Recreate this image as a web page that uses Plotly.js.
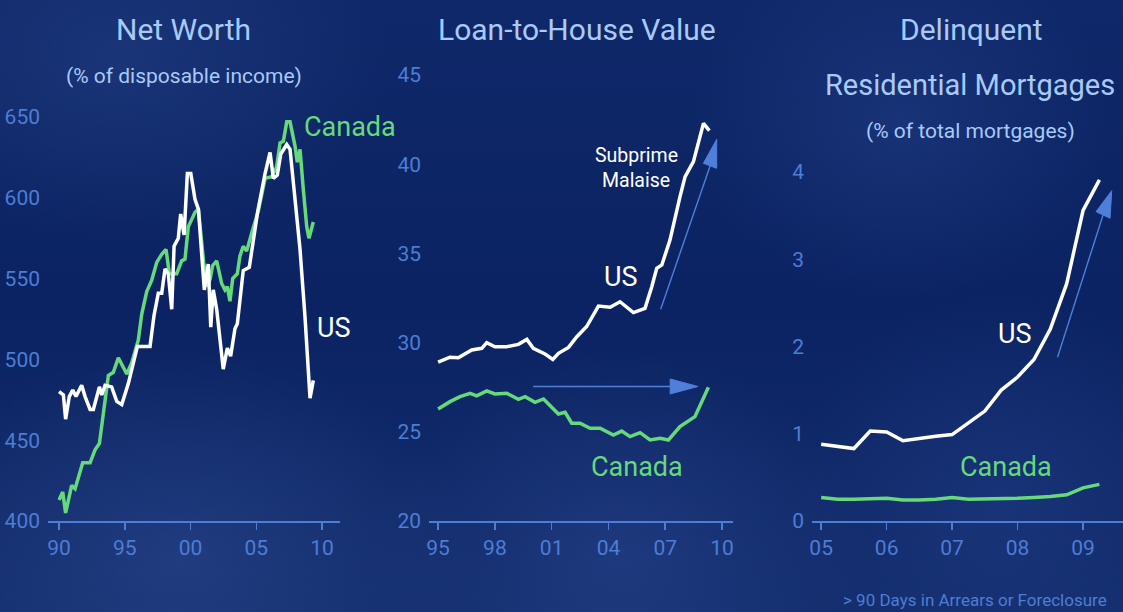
<!DOCTYPE html>
<html>
<head>
<meta charset="utf-8">
<script src="https://cdn.plot.ly/plotly-3.0.1.min.js"></script>
<style>
html,body{margin:0;padding:0;width:1123px;height:612px;overflow:hidden;}
body{
 background:
  radial-gradient(ellipse 420px 300px at 180px 560px, rgba(45,75,145,0.55), rgba(45,75,145,0) 70%),
  radial-gradient(ellipse 380px 260px at 120px 60px, rgba(40,70,140,0.45), rgba(40,70,140,0) 70%),
  radial-gradient(ellipse 360px 300px at 620px 560px, rgba(45,75,150,0.45), rgba(45,75,150,0) 70%),
  radial-gradient(ellipse 300px 260px at 900px 120px, rgba(40,70,145,0.4), rgba(40,70,145,0) 70%),
  radial-gradient(ellipse 300px 300px at 1000px 500px, rgba(40,70,150,0.35), rgba(40,70,150,0) 70%),
  linear-gradient(180deg,#0f2869 0%,#0b2362 50%,#132d6c 100%);
}
#chart{width:1123px;height:612px;}
</style>
</head>
<body>
<div id="chart"></div>
<script>
// ---------- Panel 1: Net Worth (% of disposable income) ----------
const nwUsYears = [1990.0,1990.33,1990.5,1990.78,1991.04,1991.29,1991.72,1991.98,1992.36,1992.61,1993.07,1993.25,1993.5,1994.0,1994.39,1994.77,1995.27,1995.96,1996.54,1996.92,1997.22,1997.55,1997.81,1998.06,1998.31,1998.57,1998.75,1999.07,1999.25,1999.51,1999.76,2000.02,2000.34,2000.6,2001.05,2001.35,2001.54,2001.73,2001.99,2002.49,2002.8,2003.05,2003.38,2003.56,2004.01,2004.47,2005.1,2005.67,2006.05,2006.3,2006.6,2006.86,2007.32,2007.57,2007.95,2008.33,2008.71,2008.96,2009.09,2009.34];
const nwUs = [480,478,463,477,481,477,484,477,469,469,483,478,484,483,474,472,485,508,508,508,527,541,541,556,553,531,570,575,590,577,615,615,599,593,543,559,520,543,531,494,507,502,519,522,555,557,591,615,628,612,614,627,633,630,599,568,526,495,476,487];
const nwCaYears = [1990.0,1990.28,1990.5,1990.96,1991.22,1991.8,1992.36,1992.74,1993.07,1993.5,1993.75,1994.13,1994.51,1995.15,1995.53,1996.03,1996.29,1996.67,1997.05,1997.43,1997.81,1998.14,1998.39,1998.95,1999.33,1999.58,1999.83,2000.34,2000.6,2001.0,2001.3,2001.5,2001.68,2001.99,2002.37,2002.62,2002.8,2003.0,2003.21,2003.56,2003.76,2004.01,2004.27,2004.65,2005.16,2005.67,2006.17,2006.55,2006.81,2007.06,2007.32,2007.57,2007.95,2008.12,2008.33,2008.58,2008.84,2009.01,2009.34];
const nwCa = [413,418,405,422,420,436,436,444,448,477,490,492,501,491,498,512,528,542,549,560,565,568,553,553,561,562,582,591,593,560,545,550,558,561,547,543,545,536,550,553,564,570,567,578,592,612,613,619,634,635,647,647,632,622,630,605,582,575,585];

// ---------- Panel 2: Loan-to-House Value ----------
const lvUsYears = [1995.0,1995.63,1996.07,1996.78,1997.31,1997.57,1998.0,1998.63,1999.24,1999.69,2000.03,2000.65,2001.06,2001.36,2001.89,2002.33,2002.85,2003.47,2004.09,2004.61,2005.32,2005.93,2006.29,2006.55,2006.82,2007.25,2007.78,2008.05,2008.49,2008.75,2009.02,2009.33];
const lvUs = [28.9,29.18,29.15,29.59,29.68,30.0,29.77,29.77,29.9,30.18,29.68,29.36,29.06,29.4,29.73,30.33,30.9,32.05,31.98,32.29,31.68,31.92,33.13,34.16,34.35,35.75,38.18,39.3,40.14,41.17,42.29,41.88];
const lvCaYears = [1995.0,1995.63,1996.16,1996.69,1997.04,1997.57,1998.0,1998.63,1999.24,1999.6,2000.12,2000.57,2001.36,2001.71,2002.06,2002.5,2003.03,2003.56,2004.26,2004.7,2005.14,2005.67,2006.2,2006.73,2007.17,2007.78,2008.57,2009.28];
const lvCa = [26.28,26.69,26.97,27.16,27.01,27.29,27.12,27.16,26.82,26.97,26.65,26.84,26.0,26.09,25.48,25.48,25.2,25.2,24.82,25.04,24.73,24.95,24.54,24.64,24.54,25.29,25.85,27.5];

// ---------- Panel 3: Delinquent Residential Mortgages ----------
const dqYears = [2005.0,2005.25,2005.5,2005.75,2006.0,2006.25,2006.5,2006.75,2007.0,2007.25,2007.5,2007.75,2008.0,2008.25,2008.5,2008.75,2009.0,2009.25];
const dqUs = [0.88,0.855,0.83,1.03,1.02,0.92,0.95,0.97,0.99,1.12,1.26,1.5,1.65,1.85,2.2,2.72,3.56,3.91];
const dqCa = [0.27,0.25,0.25,0.26,0.26,0.24,0.24,0.25,0.27,0.25,0.25,0.26,0.26,0.27,0.28,0.3,0.38,0.42];

// ---------- Tick labels ----------
const nwTickVals = [1990,1995,2000,2005,2010];
const nwTickText = ['90','95','00','05','10'];
const lvTickVals = [1995,1998,2001,2004,2007,2010];
const lvTickText = ['95','98','01','04','07','10'];
const dqTickVals = [2005,2006,2007,2008,2009];
const dqTickText = ['05','06','07','08','09'];

const FONT = 'Roboto,"Liberation Sans",sans-serif';
const WHITE = '#ffffff';
const GREEN = '#66d97a';
const AXIS = '#4d7dd4';
const TITLE = '#a9caf6';
const LW = 3.5;
const H = 612, W = 1123;

function line(x, y, color, xa, ya){
  return {x:x, y:y, type:'scatter', mode:'lines', xaxis:xa, yaxis:ya,
    line:{color:color, width:LW, shape:'linear'}, hoverinfo:'skip', showlegend:false};
}

const traces = [
  line(nwCaYears, nwCa, GREEN, 'x', 'y'),
  line(nwUsYears, nwUs, WHITE, 'x', 'y'),
  line(lvUsYears, lvUs, WHITE, 'x2', 'y2'),
  line(lvCaYears, lvCa, GREEN, 'x2', 'y2'),
  line(dqYears, dqCa, GREEN, 'x3', 'y3'),
  line(dqYears, dqUs, WHITE, 'x3', 'y3')
];

function xax(domain, range, vals, text){
  return {domain:domain, range:range, tickvals:vals, ticktext:text, showgrid:false, zeroline:false,
    showline:true, linecolor:AXIS, linewidth:2, ticks:'outside', ticklen:7, tickwidth:1.5, tickcolor:AXIS,
    tickfont:{family:FONT, size:21, color:AXIS}, fixedrange:true};
}
function yax(domain, range, dtick, anchor){
  return {domain:domain, range:range, dtick:dtick, tick0:0, showgrid:false, zeroline:false, showline:false,
    ticks:'', anchor:anchor, ticklabelstandoff:7,
    tickfont:{family:FONT, size:21, color:AXIS}, fixedrange:true};
}
const yb = (612-521)/H;

function txt(text, px, py, size, color){
  return {text:text, x:px/W, y:1-py/H, xref:'paper', yref:'paper', showarrow:false,
    xanchor:'center', yanchor:'middle', font:{family:FONT, size:size, color:color}};
}

const annotations = [
  txt('Net Worth', 184, 29, 30, TITLE),
  txt('(% of disposable income)', 184, 76, 21, TITLE),
  txt('Loan-to-House Value', 577, 29, 30, TITLE),
  txt('Delinquent', 971, 29, 30, TITLE),
  txt('Residential Mortgages', 970, 85, 29, TITLE),
  txt('(% of total mortgages)', 970, 131, 21, TITLE),
  txt('&gt; 90 Days in Arrears or Foreclosure', 975, 600, 17, AXIS),
  txt('Canada', 350, 127, 27, GREEN),
  txt('US', 334, 328, 27, WHITE),
  txt('Subprime', 636, 155, 19.5, WHITE),
  txt('Malaise', 636, 180, 19.5, WHITE),
  txt('US', 621, 277, 27, WHITE),
  txt('Canada', 637, 467, 27, GREEN),
  txt('US', 1015, 334, 27, WHITE),
  txt('Canada', 1006, 467, 27, GREEN)
];

const ARC = '#4f7fd8';
const shapes = [
  // panel 2 horizontal arrow
  {type:'line', xref:'x2', yref:'y2', x0:2000.02, y0:27.54, x1:2007.4, y1:27.54, line:{color:ARC, width:1.6}},
  {type:'path', xref:'x2', yref:'y2', path:'M2007.26,27.96 L2008.73,27.54 L2007.26,27.12 Z', fillcolor:ARC, line:{color:ARC, width:1}},
  // panel 2 diagonal arrow
  {type:'line', xref:'x2', yref:'y2', x0:2006.76, y0:31.87, x1:2009.37, y1:39.9, line:{color:ARC, width:1.4}},
  {type:'path', xref:'x2', yref:'y2', path:'M2009.015,40.05 L2009.72,41.40 L2009.72,39.77 Z', fillcolor:ARC, line:{color:ARC, width:1}},
  // panel 3 diagonal arrow
  {type:'line', xref:'x3', yref:'y3', x0:2008.61, y0:1.876, x1:2009.305, y1:3.507, line:{color:ARC, width:1.4}},
  {type:'path', xref:'x3', yref:'y3', path:'M2009.198,3.545 L2009.438,3.786 L2009.412,3.469 Z', fillcolor:ARC, line:{color:ARC, width:1}}
];

const layout = {
  width:W, height:H, margin:{l:0,r:0,t:0,b:0},
  paper_bgcolor:'rgba(0,0,0,0)', plot_bgcolor:'rgba(0,0,0,0)',
  showlegend:false,
  xaxis: Object.assign(xax([48/W, 340/W], [1989.16, 2011.37], nwTickVals, nwTickText), {anchor:'y'}),
  yaxis: yax([yb, (612-95)/H], [400, 663.6], 50, 'x'),
  xaxis2: Object.assign(xax([429/W, 733/W], [1994.52, 2010.58], lvTickVals, lvTickText), {anchor:'y2'}),
  yaxis2: yax([yb, (612-70)/H], [20, 45.28], 5, 'x2'),
  xaxis3: Object.assign(xax([812/W, 1], [2004.86, 2009.61], dqTickVals, dqTickText), {anchor:'y3'}),
  yaxis3: yax([yb, (612-160)/H], [0, 4.137], 1, 'x3'),
  annotations: annotations,
  shapes: shapes
};

Plotly.newPlot('chart', traces, layout, {displayModeBar:false, staticPlot:true});
</script>
</body>
</html>
